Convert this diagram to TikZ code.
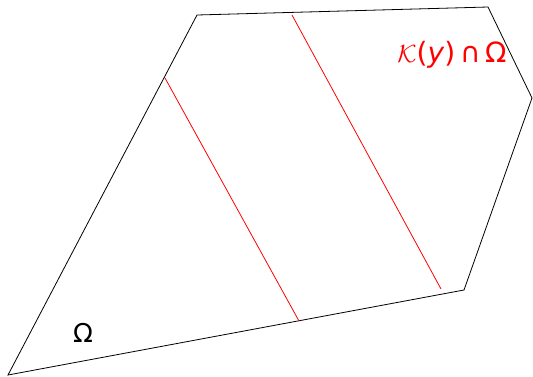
\documentclass[tikz,border=0pt]{standalone}
\usepackage{fontspec}
\setmainfont{DejaVu Sans}
\usepackage{tikz}
\usetikzlibrary{positioning}

\begin{document}
\begin{tikzpicture}[
  x=1pt, y=-1pt,
  border/.style={draw=black, line width=0.8pt},
  cut/.style={draw=red, line width=0.8pt},
  lbl/.style={inner sep=0pt, font=\fontsize{26}{30}\selectfont}
]
\useasboundingbox (0,0) rectangle (533,376);
% corners of the domain
\coordinate (bl) at (8,375);
\coordinate (tl) at (197,15);
\coordinate (tr) at (488,7);
\coordinate (rt) at (532,98);
\coordinate (br) at (464,290);
% ends of the red segments
\coordinate (cutAtop) at (165,78);
\coordinate (cutAbot) at (299,321);
\coordinate (cutBtop) at (292,15);
\coordinate (cutBbot) at (441,289);

\draw[border] (bl) -- (tl) -- (tr) -- (rt) -- (br) -- cycle;
\draw[cut] (cutAtop) -- (cutAbot);
\draw[cut] (cutBtop) -- (cutBbot);

\node[lbl] (omega) at (83,333) {Ω};
\node[lbl, text=red, font=\fontsize{28}{32}\selectfont] (cone) at (452,55)
  {$\mathcal{K}$(\textit{y})\,∩\,Ω};
\end{tikzpicture}
\end{document}
